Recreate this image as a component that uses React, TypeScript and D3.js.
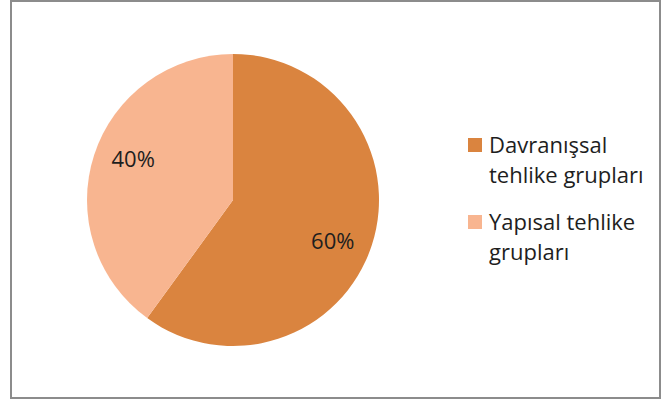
import React from "react";
import * as d3 from "d3";

const categories = ["Davranışsal tehlike grupları", "Yapısal tehlike grupları"];
const legendLines = [["Davranışsal", "tehlike grupları"], ["Yapısal tehlike", "grupları"]];
const values = [60, 40];
const colors = ["#DA843F", "#F8B590"];

export default function App() {
  const W = 664, H = 405;
  const cx = 233, cy = 200, r = 146;
  const pie = d3.pie<number>().sort(null).value((d) => d);
  const arcs = pie(values);
  const arc = d3.arc<d3.PieArcDatum<number>>().innerRadius(0).outerRadius(r);
  const total = d3.sum(values);
  const font = "'Open Sans', sans-serif";
  const labelR = 108;
  const shift = 0.078;
  return (
    <svg width={W} height={H} style={{ position: "absolute", left: 0, top: 0 }}>
      <rect x={11} y={1} width={649} height={397} fill="#fff" stroke="#8c8c8c" strokeWidth={2} />
      <g transform={`translate(${cx},${cy})`}>
        {arcs.map((a, i) => (
          <path key={i} d={arc(a) || ""} fill={colors[i]} />
        ))}
        {arcs.map((a, i) => {
          const m = (a.startAngle + a.endAngle) / 2 + shift;
          const x = Math.sin(m) * labelR;
          const y = -Math.cos(m) * labelR;
          return (
            <text key={i} x={x} y={y} textAnchor="middle" dy="0.357em" fontFamily={font} fontSize={22} fill="#1e1e1e">
              {Math.round((a.data / total) * 100)}%
            </text>
          );
        })}
      </g>
      {categories.map((c, i) => {
        const y0 = 138 + i * 77;
        return (
          <g key={c}>
            <rect x={468} y={y0} width={14} height={14} fill={colors[i]} />
            {legendLines[i].map((l, j) => (
              <text key={j} x={489} y={y0 + 14.5 + j * 30} fontFamily={font} fontSize={22} fill="#1e1e1e">
                {l}
              </text>
            ))}
          </g>
        );
      })}
    </svg>
  );
}
